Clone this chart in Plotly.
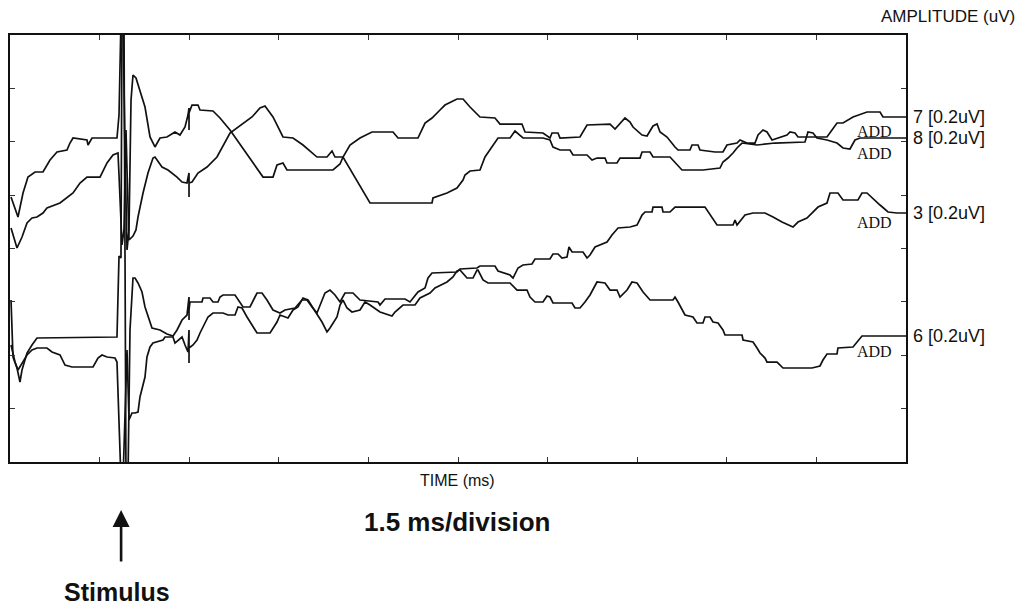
import plotly.graph_objects as go

# ---- data (time in ms, amplitude in divisions of 0.2 uV) ----
labels = ["7 [0.2uV]", "8 [0.2uV]", "3 [0.2uV]", "6 [0.2uV]"]

t7 = [0.017, 0.134, 0.218, 0.301, 0.419, 0.552, 0.670, 0.787, 0.954, 1.004, 1.055, 1.289, 1.306, 1.373, 1.791,
      1.825, 1.858, 1.892, 1.925, 1.959, 1.992, 2.026, 2.059, 2.109, 2.260, 2.344, 2.427, 2.511, 2.628, 2.762,
      2.846, 2.930, 2.980, 2.997, 2.997, 2.997, 3.047, 3.147, 3.181, 3.398, 3.516, 3.683, 4.236, 4.403, 4.470,
      4.570, 4.637, 5.407, 5.525, 5.575, 5.692, 5.859, 6.060, 6.412, 6.496, 6.830, 6.948, 7.065, 7.199, 7.282,
      7.483, 7.584, 7.701, 7.868, 8.119, 8.203, 8.571, 8.622, 8.923, 9.040, 9.074, 9.174, 9.208, 9.542, 9.660,
      10.045, 10.129, 10.212, 10.296, 10.380, 10.430, 10.581, 10.664, 10.765, 10.832, 10.882, 10.999, 11.133,
      11.183, 11.384, 11.417, 11.518, 11.551, 11.802, 11.936, 12.003, 12.171, 12.221, 12.338, 12.472, 12.523,
      12.606, 12.673, 12.757, 12.891, 13.008, 13.058, 13.142, 13.192, 13.677, 13.761, 13.845, 13.945, 14.113,
      14.347, 14.565, 14.615, 15.000]
a7 = [4.965, 4.590, 5.040, 5.339, 5.433, 5.433, 5.658, 5.808, 5.845, 5.976, 6.070, 6.033, 5.939, 6.070, 6.070,
      6.501, 8.281, 8.281, 5.845, 3.972, 4.347, 6.782, 7.250, 7.194, 6.651, 6.089, 5.902, 6.070, 6.089, 6.183,
      6.126, 6.276, 6.501, 6.632, 6.220, 6.539, 6.688, 6.688, 6.595, 6.576, 6.445, 6.220, 5.339, 5.339, 5.564,
      5.602, 5.471, 5.471, 5.583, 5.714, 5.939, 6.070, 6.183, 6.183, 6.070, 6.070, 6.351, 6.445, 6.595, 6.688,
      6.801, 6.801, 6.651, 6.464, 6.445, 6.332, 6.332, 6.183, 6.164, 6.070, 6.164, 6.164, 6.070, 6.089, 6.314,
      6.332, 6.239, 6.351, 6.445, 6.370, 6.276, 6.126, 6.108, 6.295, 6.332, 6.183, 6.089, 5.902,
      5.845, 5.845, 5.939, 5.939, 5.845, 5.808, 5.808, 5.939, 5.976, 6.033, 5.976, 5.976, 6.126,
      6.220, 6.183, 6.033, 6.089, 6.126, 6.183, 6.164, 6.089, 6.089, 6.220, 6.351, 6.351, 6.464,
      6.557, 6.557, 6.464, 6.464]

t8 = [0.017, 0.117, 0.201, 0.285, 0.368, 0.452, 0.552, 0.619, 0.837, 0.954, 1.055, 1.172, 1.289, 1.507, 1.624,
      1.724, 1.808, 1.825, 1.858, 1.875, 1.908, 1.942, 1.959, 1.992, 2.059, 2.109, 2.143, 2.227, 2.310, 2.394,
      2.427, 2.545, 2.645, 2.796, 2.880, 2.963, 2.997, 2.997, 2.997, 3.047, 3.147, 3.298, 3.465, 3.683, 3.901,
      4.051, 4.185, 4.269, 4.403, 4.570, 4.738, 4.905, 5.139, 5.307, 5.391, 5.441, 5.575, 6.027, 7.065, 7.081,
      7.316, 7.483, 7.584, 7.617, 7.701, 7.868, 7.952, 8.086, 8.170, 8.371, 8.454, 8.588, 8.923, 9.040, 9.090,
      9.208, 9.375, 9.425, 9.660, 9.744, 9.827, 9.961, 9.995, 10.162, 10.212, 10.547, 10.581, 10.715, 10.765,
      11.049, 11.166, 11.250, 11.601, 11.886, 11.936, 12.020, 12.104, 12.171, 12.255, 12.506, 12.807, 13.309,
      13.359, 13.443, 13.510, 13.677, 13.845, 13.945, 14.062, 14.146, 14.230, 15.000]
a8 = [4.384, 4.009, 4.215, 4.478, 4.571, 4.590, 4.665, 4.759, 4.852, 4.946, 5.040, 5.227, 5.339, 5.339, 5.602,
      5.752, 5.789, 5.377, 4.627, 4.066, 4.347, 6.220, 5.471, 4.159, 4.234, 4.347, 4.590, 5.040, 5.414, 5.695,
      5.714, 5.527, 5.471, 5.339, 5.246, 5.227, 5.414, 4.965, 5.227, 5.246, 5.414, 5.527, 5.714, 6.164, 6.351,
      6.464, 6.632, 6.670, 6.464, 6.089, 6.070, 5.939, 5.714, 5.714, 5.827, 5.714, 5.714, 4.852, 4.852, 4.946,
      5.040, 5.133, 5.283, 5.377, 5.452, 5.471, 5.714, 5.939, 6.070, 6.070, 6.201, 6.070, 6.070, 6.033, 5.902,
      5.845, 5.845, 5.752, 5.752, 5.658, 5.695, 5.695, 5.602, 5.602, 5.695, 5.695, 5.808, 5.808, 5.714,
      5.714, 5.564, 5.471, 5.471, 5.508, 5.621, 5.695, 5.789, 5.883, 5.976, 5.939, 5.976, 5.995,
      6.183, 6.164, 6.070, 6.033, 5.976, 5.883, 5.864, 6.033, 6.070, 6.070]

t3 = [0.017, 0.050, 0.117, 0.167, 0.201, 0.285, 0.368, 0.452, 1.791, 1.825, 1.858, 1.875, 1.908, 1.942, 1.975,
      2.009, 2.059, 2.093, 2.143, 2.210, 2.260, 2.344, 2.377, 2.511, 2.628, 2.729, 2.796, 2.880, 2.963, 2.997,
      2.997, 2.997, 3.013, 3.214, 3.231, 3.348, 3.398, 3.482, 3.516, 3.566, 3.767, 3.850, 3.901, 4.018, 4.135,
      4.219, 4.302, 4.403, 4.520, 4.604, 4.771, 4.888, 4.972, 5.056, 5.139, 5.273, 5.357, 5.441, 5.525, 5.608,
      5.742, 5.859, 6.161, 6.194, 6.278, 6.613, 6.696, 6.830, 6.948, 6.998, 7.065, 7.483, 7.533, 7.818, 7.868,
      8.119, 8.170, 8.371, 8.421, 8.505, 8.588, 8.739, 8.789, 9.040, 9.090, 9.174, 9.241, 9.325, 9.358, 9.409,
      9.593, 9.660, 9.710, 9.794, 9.877, 9.995, 10.078, 10.179, 10.380, 10.497, 10.581, 10.631, 10.748, 10.765,
      10.915, 10.932, 11.049, 11.133, 11.635, 11.752, 11.836, 12.104, 12.138, 12.171, 12.255, 12.305, 12.439,
      12.640, 12.774, 12.924, 13.108, 13.192, 13.342, 13.527, 13.677, 13.728, 13.861, 13.945, 14.196, 14.263,
      14.347, 14.431, 14.565, 14.699, 14.849, 15.000]
a3 = [3.035, 1.967, 1.761, 1.499, 1.724, 2.042, 2.192, 2.323, 2.342, 3.859, 3.822, 8.281, 8.281, -0.337, -0.337,
      2.473, 3.447, 3.447, 3.354, 3.185, 2.904, 2.604, 2.510, 2.473, 2.398, 2.361, 2.473, 2.660, 2.754, 3.091,
      2.660, 2.848, 2.998, 2.998, 3.073, 3.073, 2.998, 2.998, 3.091, 3.129, 3.129, 2.979, 2.904, 2.904, 3.166,
      3.166, 3.035, 2.848, 2.792, 2.848, 2.885, 3.035, 3.035, 2.904, 2.792, 3.166, 3.222, 3.129, 2.998, 3.166,
      3.166, 3.035, 2.998, 2.941, 3.054, 3.054, 2.998, 3.185, 3.260, 3.447, 3.541, 3.560, 3.616, 3.635, 3.672,
      3.672, 3.578, 3.503, 3.447, 3.635, 3.691, 3.710, 3.803, 3.803, 3.897, 3.897, 3.822, 3.841, 4.028, 3.934,
      3.934, 3.822, 3.878, 4.028, 4.066, 4.122, 4.253, 4.384, 4.403, 4.440, 4.627, 4.684, 4.684, 4.777,
      4.777, 4.684, 4.684, 4.777, 4.777, 4.590, 4.440, 4.440, 4.534, 4.440, 4.571, 4.627, 4.665,
      4.665, 4.590, 4.496, 4.403, 4.496, 4.571, 4.777, 4.852, 5.040, 5.040, 4.909, 4.909, 5.040,
      5.040, 4.946, 4.815, 4.684, 4.665, 4.665]

t6 = [0.017, 0.084, 0.134, 0.285, 0.368, 0.452, 0.619, 0.703, 0.837, 0.921, 1.038, 1.390, 1.473, 1.540, 1.624,
      1.758, 1.791, 1.825, 1.858, 1.892, 1.925, 1.959, 1.992, 2.042, 2.093, 2.143, 2.176, 2.260, 2.293, 2.344,
      2.394, 2.561, 2.595, 2.729, 2.762, 2.880, 2.930, 2.980, 2.997, 2.997, 2.997, 3.064, 3.131, 3.181, 3.231,
      3.315, 3.398, 3.566, 3.650, 3.767, 3.817, 3.884, 3.968, 4.068, 4.135, 4.353, 4.470, 4.520, 4.604, 4.654,
      4.738, 4.821, 4.905, 4.989, 5.073, 5.223, 5.307, 5.357, 5.474, 5.525, 5.575, 5.642, 5.725, 5.859, 5.943,
      6.027, 6.194, 6.395, 6.445, 6.579, 6.780, 6.864, 7.031, 7.115, 7.316, 7.416, 7.483, 7.533, 7.651, 7.751,
      7.818, 7.835, 7.919, 8.002, 8.371, 8.488, 8.655, 8.705, 8.789, 8.923, 8.990, 9.040, 9.090, 9.409, 9.459,
      9.542, 9.626, 9.710, 9.827, 9.961, 10.045, 10.162, 10.212, 10.330, 10.413, 10.497, 10.598, 10.715, 11.099,
      11.133, 11.183, 11.300, 11.434, 11.501, 11.601, 11.635, 11.719, 11.769, 11.853, 11.936, 11.970, 12.255,
      12.272, 12.439, 12.506, 12.556, 12.640, 12.673, 12.841, 12.941, 13.426, 13.560, 13.610, 13.677, 13.845,
      13.861, 14.113, 14.230, 14.263, 15.000]
a6 = [2.192, 1.873, 1.724, 2.005, 2.098, 2.136, 2.136, 2.061, 2.005, 1.817, 1.780, 1.780, 1.948, 2.005, 1.967,
      1.948, 1.873, 0.974, -0.337, -0.337, 0.787, 2.098, 0.787, 0.918, 0.918, 0.937, 1.218, 1.592, 1.967, 2.155,
      2.229, 2.286, 2.342, 2.342, 2.229, 2.342, 2.192, 2.061, 2.473, 1.855, 2.136, 2.192, 2.286, 2.417, 2.529,
      2.717, 2.792, 2.792, 2.754, 2.754, 2.904, 2.885, 2.717, 2.529, 2.417, 2.417, 2.623, 2.754, 2.717, 2.698,
      2.848, 2.904, 3.073, 3.035, 2.885, 2.623, 2.436, 2.510, 2.717, 2.941, 3.035, 2.885, 2.810, 2.848, 2.998,
      2.941, 2.810, 2.735, 2.810, 2.941, 2.941, 3.073, 3.166, 3.260, 3.372, 3.466, 3.578, 3.597, 3.447, 3.447,
      3.597, 3.597, 3.410, 3.354, 3.354, 3.222, 3.222, 3.091, 2.998, 2.998, 3.110, 3.091, 2.979, 2.979, 2.885,
      2.885, 2.998, 3.129, 3.372, 3.354, 3.222, 3.222, 3.091, 3.222, 3.372, 3.354, 3.185, 3.035, 3.035,
      3.091, 2.998, 2.754, 2.717, 2.604, 2.604, 2.717, 2.717, 2.623, 2.604, 2.473, 2.379, 2.379,
      2.286, 2.248, 2.136, 2.042, 1.948, 1.873, 1.873, 1.761, 1.761, 1.799, 1.911, 2.023, 2.023,
      2.136, 2.155, 2.323, 2.361, 2.361]

series = [(t7, a7), (t8, a8), (t3, a3), (t6, a6)]
add_offsets = [-15, -15, -9, -16]   # pixel offset of the "ADD" tag below each trace end
stimulus_ms = 1.86

fig = go.Figure()
for (t, a), name in zip(series, labels):
    fig.add_trace(go.Scatter(x=t, y=a, mode="lines", name=name,
                             line=dict(color="#111111", width=1.7),
                             hoverinfo="skip", showlegend=False))

ann = []
for (t, a), name, off in zip(series, labels, add_offsets):
    ann.append(dict(x=1.0056, xref="paper", y=a[-1], yref="y", text=name, showarrow=False,
                    xanchor="left", yanchor="middle",
                    font=dict(family="Liberation Sans, Arial", size=18, color="#111")))
    ann.append(dict(x=0.987, xref="paper", y=a[-1], yref="y", yshift=off, text="ADD", showarrow=False,
                    xanchor="right", yanchor="middle",
                    font=dict(family="Liberation Serif, Times New Roman", size=16, color="#111")))

ann += [
    dict(x=1.1239, y=1.0422, xref="paper", yref="paper", text="AMPLITUDE (uV)", showarrow=False,
         xanchor="right", yanchor="middle",
         font=dict(family="Liberation Sans, Arial", size=17, color="#111")),
    dict(x=0.4989, y=-0.0422, xref="paper", yref="paper", text="TIME (ms)", showarrow=False,
         xanchor="center", yanchor="middle",
         font=dict(family="Liberation Sans, Arial", size=16, color="#111")),
    dict(x=0.4989, y=-0.1405, xref="paper", yref="paper", text="<b>1.5 ms/division</b>", showarrow=False,
         xanchor="center", yanchor="middle",
         font=dict(family="Liberation Sans, Arial", size=26, color="#111")),
    dict(x=0.1194, y=-0.3044, xref="paper", yref="paper", text="<b>Stimulus</b>", showarrow=False,
         xanchor="center", yanchor="middle",
         font=dict(family="Liberation Sans, Arial", size=25, color="#111")),
    dict(x=stimulus_ms, y=-0.1124, xref="x", yref="paper", text="", showarrow=True,
         ax=0, ay=53, arrowhead=2, arrowsize=1.3, arrowwidth=2.6, arrowcolor="#111"),
]

fig.update_layout(
    width=1019, height=607,
    margin=dict(l=10, r=113, t=35, b=145, autoexpand=False),
    paper_bgcolor="white", plot_bgcolor="white",
    annotations=ann,
    showlegend=False,
)
fig.update_xaxes(range=[0, 15], dtick=1.5, tick0=0, ticks="inside", ticklen=5, tickwidth=1,
                 tickcolor="#333", showticklabels=False, showgrid=False, zeroline=False,
                 showline=True, linecolor="#111", linewidth=2, mirror="ticks", automargin=False)
fig.update_yaxes(range=[0, 8], dtick=1, tick0=0, ticks="inside", ticklen=5, tickwidth=1,
                 tickcolor="#333", showticklabels=False, showgrid=False, zeroline=False,
                 showline=True, linecolor="#111", linewidth=2, mirror="ticks", automargin=False)

fig.write_html("out.html", config={"displayModeBar": False, "staticPlot": True},
               post_script="document.body.style.margin='0';document.body.style.overflow='hidden';")
